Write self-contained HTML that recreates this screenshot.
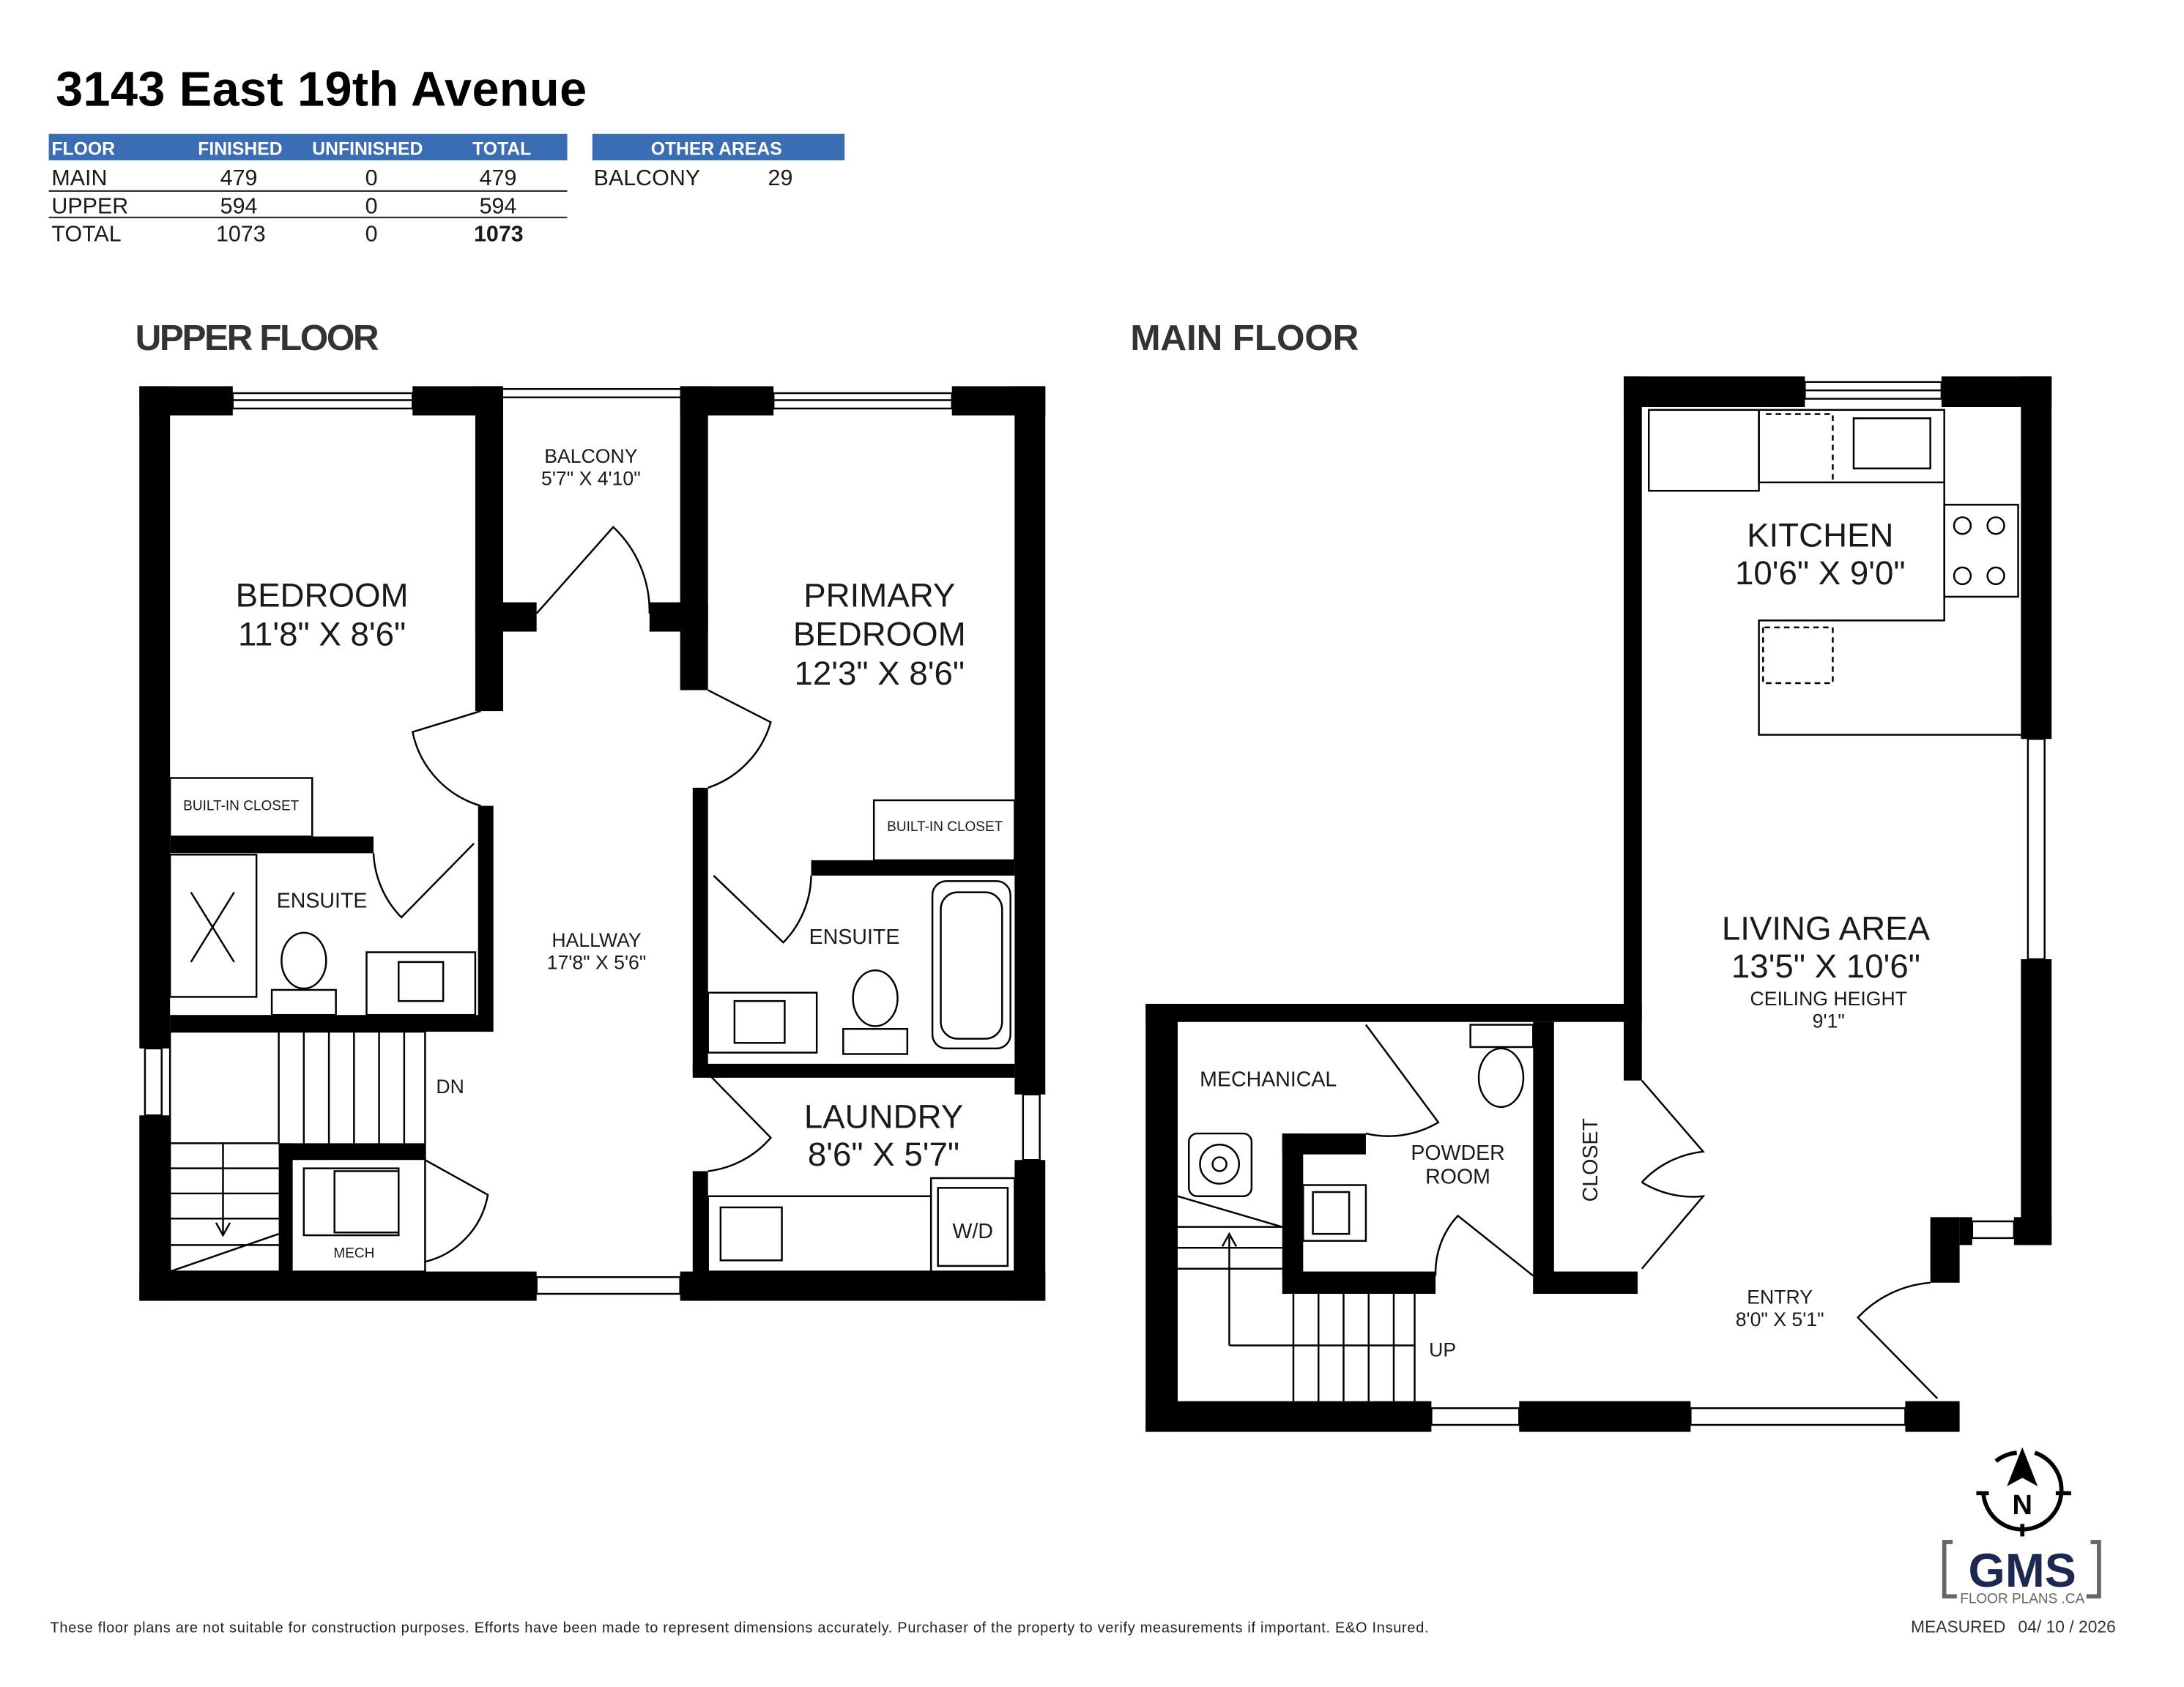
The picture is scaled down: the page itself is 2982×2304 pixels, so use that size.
<!DOCTYPE html>
<html><head><meta charset="utf-8"><style>
html,body{margin:0;padding:0;background:#fff}
svg{display:block}
text{font-family:"Liberation Sans",sans-serif;fill:#1a1a1a}
text.w{fill:#fff}
</style></head><body>
<svg width="2982" height="2304" viewBox="0 0 1567 1210" preserveAspectRatio="none" xmlns="http://www.w3.org/2000/svg">
<rect width="1600" height="1250" fill="#fff"/>
<text x="40" y="76" font-size="35" font-weight="bold" style="fill:#000" textLength="381">3143 East 19th Avenue</text>
<rect x="35" y="96" width="372" height="19" fill="#3b6db5"/>
<rect x="425" y="96" width="181" height="19" fill="#3b6db5"/>
<g font-size="13" font-weight="bold">
<text class="w" x="37" y="111">FLOOR</text>
<text class="w" x="142" y="111">FINISHED</text>
<text class="w" x="224" y="111">UNFINISHED</text>
<text class="w" x="339" y="111">TOTAL</text>
<text class="w" x="467" y="111">OTHER AREAS</text>
</g>
<g font-size="16">
<text x="37" y="133">MAIN</text><text x="158" y="133">479</text><text x="262" y="133">0</text><text x="344" y="133">479</text>
<text x="37" y="153">UPPER</text><text x="158" y="153">594</text><text x="262" y="153">0</text><text x="344" y="153">594</text>
<text x="37" y="173">TOTAL</text><text x="155" y="173">1073</text><text x="262" y="173">0</text><text x="340" y="173" font-weight="bold">1073</text>
<text x="426" y="133">BALCONY</text><text x="551" y="133">29</text>
</g>
<line x1="35" y1="137" x2="407" y2="137" stroke="#333" stroke-width="1.2"/>
<line x1="35" y1="156" x2="407" y2="156" stroke="#333" stroke-width="1.2"/>
<text x="97" y="251" font-size="26" font-weight="bold" style="fill:#333" textLength="175">UPPER FLOOR</text>
<text x="811" y="251" font-size="26" font-weight="bold" style="fill:#333" textLength="164">MAIN FLOOR</text>

<g fill="#000">
<rect x="100" y="277" width="67" height="21"/>
<rect x="296" y="277" width="65" height="21"/>
<rect x="488" y="277" width="67" height="21"/>
<rect x="683" y="277" width="67" height="21"/>
<rect x="100" y="277" width="22" height="475"/>
<rect x="100" y="800" width="22" height="133"/>
<rect x="728" y="277" width="22" height="508"/>
<rect x="728" y="832" width="22" height="101"/>
<rect x="100" y="912" width="285" height="21"/>
<rect x="488" y="912" width="262" height="21"/>
<rect x="341" y="277" width="20" height="233"/>
<rect x="488" y="277" width="20" height="218"/>
<rect x="341" y="432" width="44" height="21"/>
<rect x="466" y="432" width="42" height="21"/>
<rect x="343" y="578" width="11" height="162"/>
<rect x="122" y="600" width="146" height="12"/>
<rect x="122" y="728" width="231" height="12"/>
<rect x="497" y="565" width="11" height="205"/>
<rect x="497" y="840" width="11" height="93"/>
<rect x="582" y="617" width="146" height="11"/>
<rect x="497" y="763" width="231" height="10"/>
<rect x="200" y="820" width="10" height="92"/>
<rect x="200" y="820" width="105" height="12"/>
</g>
<g fill="none" stroke="#000" stroke-width="1.3">
<rect x="167" y="282" width="129" height="11"/><line x1="167" y1="287" x2="296" y2="287"/>
<rect x="555" y="282" width="128" height="11"/><line x1="555" y1="287" x2="683" y2="287"/>
<line x1="361" y1="279" x2="488" y2="279"/><line x1="361" y1="285" x2="488" y2="285"/>
<rect x="104" y="752" width="12" height="48"/><rect x="734" y="785" width="12" height="47"/>
<rect x="385" y="916" width="103" height="12"/>
<rect x="122" y="558" width="102" height="42"/>
<rect x="627" y="574" width="101" height="43"/>
<path d="M385 440 L440 378 A83 83 0 0 1 466 440"/>
<path d="M345 510 L296 525 A70 70 0 0 0 345 578"/>
<path d="M508 495 L553 518 A70 70 0 0 1 508 565"/>
<path d="M340 605 L288 658 A70 70 0 0 1 268 612"/>
<path d="M512 628 L562 676 A70 70 0 0 0 582 628"/>
<path d="M508 770 L553 816 A70 70 0 0 1 508 840"/>
<path d="M305 832 L350 857 A60 60 0 0 1 305 905"/>
<rect x="122" y="613" width="62" height="102"/>
<line x1="137" y1="640" x2="168" y2="690"/><line x1="168" y1="640" x2="137" y2="690"/>
<ellipse cx="218" cy="689" rx="16" ry="20"/><rect x="195" y="710" width="46" height="18"/>
<rect x="263" y="683" width="78" height="45"/><rect x="286" y="690" width="32" height="28"/>
<rect x="669" y="632" width="56" height="120" rx="10"/><rect x="675" y="640" width="44" height="105" rx="12"/>
<ellipse cx="628" cy="716" rx="16" ry="20"/><rect x="605" y="738" width="46" height="18"/>
<rect x="508" y="712" width="78" height="43"/><rect x="527" y="718" width="36" height="30"/>
<rect x="508" y="858" width="160" height="54"/><rect x="517" y="866" width="44" height="38"/>
<rect x="668" y="845" width="60" height="67"/><rect x="673" y="852" width="50" height="56"/>
<rect x="218" y="838" width="68" height="48"/><rect x="240" y="840" width="46" height="44"/>
<rect x="122" y="740" width="183" height="172"/>
<path d="M200 740V820M218 740V820M236 740V820M254 740V820M272 740V820M290 740V820"/>
<path d="M122 820H200M122 838H200M122 856H200M122 874H200M122 893H200"/>
<line x1="122" y1="912" x2="200" y2="885"/>
<line x1="160" y1="820" x2="160" y2="885"/><path d="M155 877 L160 886 L165 877"/>
</g>
<g text-anchor="middle">
<text x="231" y="435" font-size="24">BEDROOM</text>
<text x="231" y="463" font-size="24">11'8" X 8'6"</text>
<text x="424" y="332" font-size="14">BALCONY</text>
<text x="424" y="348" font-size="14">5'7" X 4'10"</text>
<text x="631" y="435" font-size="24">PRIMARY</text>
<text x="631" y="463" font-size="24">BEDROOM</text>
<text x="631" y="491" font-size="24">12'3" X 8'6"</text>
<text x="173" y="581" font-size="10">BUILT-IN CLOSET</text>
<text x="678" y="596" font-size="10">BUILT-IN CLOSET</text>
<text x="231" y="651" font-size="15">ENSUITE</text>
<text x="613" y="677" font-size="15">ENSUITE</text>
<text x="428" y="679" font-size="14">HALLWAY</text>
<text x="428" y="695" font-size="14">17'8" X 5'6"</text>
<text x="634" y="809" font-size="24">LAUNDRY</text>
<text x="634" y="836" font-size="24">8'6" X 5'7"</text>
<text x="698" y="888" font-size="15">W/D</text>
<text x="254" y="902" font-size="10">MECH</text>
<text x="323" y="784" font-size="14">DN</text>
</g>

<g fill="#000">
<rect x="1165" y="270" width="130" height="22"/>
<rect x="1393" y="270" width="79" height="22"/>
<rect x="1165" y="270" width="13" height="505"/>
<rect x="1450" y="270" width="22" height="260"/>
<rect x="1450" y="688" width="22" height="205"/>
<rect x="1406" y="873" width="9" height="20"/>
<rect x="1445" y="873" width="27" height="20"/>
<rect x="1385" y="873" width="21" height="47"/>
<rect x="822" y="720" width="343" height="13"/>
<rect x="1165" y="720" width="13" height="13"/>
<rect x="822" y="720" width="23" height="307"/>
<rect x="822" y="1005" width="205" height="22"/>
<rect x="1090" y="1005" width="123" height="22"/>
<rect x="1367" y="1005" width="39" height="22"/>
<rect x="920" y="813" width="15" height="102"/>
<rect x="920" y="813" width="60" height="15"/>
<rect x="920" y="912" width="110" height="16"/>
<rect x="1100" y="733" width="15" height="195"/>
<rect x="1100" y="912" width="75" height="16"/>
</g>
<g fill="none" stroke="#000" stroke-width="1.3">
<rect x="1295" y="274" width="98" height="12"/><line x1="1295" y1="280" x2="1393" y2="280"/>
<rect x="1455" y="530" width="12" height="158"/>
<rect x="1415" y="876" width="30" height="12"/>
<rect x="1027" y="1010" width="63" height="12"/>
<rect x="1213" y="1010" width="154" height="12"/>
<rect x="1183" y="294" width="79" height="58"/>
<rect x="1262" y="294" width="133" height="52"/>
<rect x="1330" y="300" width="55" height="36"/>
<path d="M1267 297 H1315 V345" stroke-dasharray="4 3"/>
<rect x="1395" y="362" width="53" height="66"/>
<path d="M1395 345 V445 H1262 V527 H1450"/>
<path d="M1265 450 V490 H1315 V450 H1265" stroke-dasharray="4 3"/>
<circle cx="1408" cy="377" r="6"/><circle cx="1432" cy="377" r="6"/><circle cx="1408" cy="413" r="6"/><circle cx="1432" cy="413" r="6"/>
<path d="M1178 775 L1222 826 A70 70 0 0 0 1178 848"/>
<path d="M1178 910 L1222 858 A70 70 0 0 1 1178 848"/>
<path d="M1390 1003 L1333 945 A80 80 0 0 1 1385 920"/>
<path d="M980 735 L1032 805 A70 70 0 0 1 980 813"/>
<path d="M1100 915 L1046 872 A60 60 0 0 0 1030 915"/>
<ellipse cx="1077" cy="773" rx="16" ry="21"/><rect x="1055" y="735" width="45" height="16"/>
<rect x="935" y="850" width="45" height="40"/><rect x="942" y="855" width="26" height="30"/>
<rect x="853" y="813" width="45" height="45" rx="6"/><circle cx="875" cy="835" r="14"/><circle cx="875" cy="835" r="5"/>
<path d="M845 858 L920 880"/>
<path d="M845 880H920M845 895H920M845 910H920"/>
<path d="M928 928V1005M946 928V1005M964 928V1005M982 928V1005M1000 928V1005M1015 928V1005"/>
<path d="M882 965 H1015 M882 965 V887"/><path d="M877 894 L882 885 L887 894"/>
</g>
<g text-anchor="middle">
<text x="1306" y="392" font-size="24">KITCHEN</text>
<text x="1306" y="419" font-size="24">10'6" X 9'0"</text>
<text x="1310" y="674" font-size="24">LIVING AREA</text>
<text x="1310" y="701" font-size="24">13'5" X 10'6"</text>
<text x="1312" y="721" font-size="14">CEILING HEIGHT</text>
<text x="1312" y="737" font-size="14">9'1"</text>
<text x="910" y="779" font-size="15">MECHANICAL</text>
<text x="1046" y="832" font-size="15">POWDER</text>
<text x="1046" y="849" font-size="15">ROOM</text>
<text x="1277" y="935" font-size="14">ENTRY</text>
<text x="1277" y="951" font-size="14">8'0" X 5'1"</text>
<text x="1035" y="973" font-size="14">UP</text>
<text x="1146" y="832" font-size="15" transform="rotate(-90 1146 832)">CLOSET</text>
</g>

<g fill="none" stroke="#000" stroke-width="3">
<path d="M1432 1048 A28 28 0 0 1 1447 1042 M1460 1042 A28 28 0 0 1 1479 1070 A28 28 0 0 1 1451 1097 A28 28 0 0 1 1423 1070"/>
<path d="M1418 1071H1427M1475 1071H1486M1451 1093V1102"/>
</g>
<path d="M1451 1038 L1440 1066 L1451 1060 L1462 1066 Z" fill="#000"/>
<text x="1451" y="1086" font-size="20" font-weight="bold" text-anchor="middle" style="fill:#000">N</text>
<path d="M1401 1106 H1395 V1145 H1404 M1500 1106 H1506 V1145 H1497" fill="none" stroke="#666" stroke-width="3"/>
<text x="1451" y="1138" font-size="34" font-weight="bold" text-anchor="middle" style="fill:#1c2752">GMS</text>
<text x="1451" y="1150" font-size="10" text-anchor="middle" style="fill:#666">FLOOR PLANS .CA</text>
<text x="1371" y="1171" font-size="12" style="fill:#333">MEASURED</text>
<text x="1448" y="1171" font-size="12" style="fill:#333">04/ 10 / 2026</text>
<text x="36" y="1171" font-size="10.5" style="fill:#222" textLength="989">These floor plans are not suitable for construction purposes. Efforts have been made to represent dimensions accurately.  Purchaser of the property to verify measurements if important.  E&amp;O Insured.</text>
</svg>
</body></html>
